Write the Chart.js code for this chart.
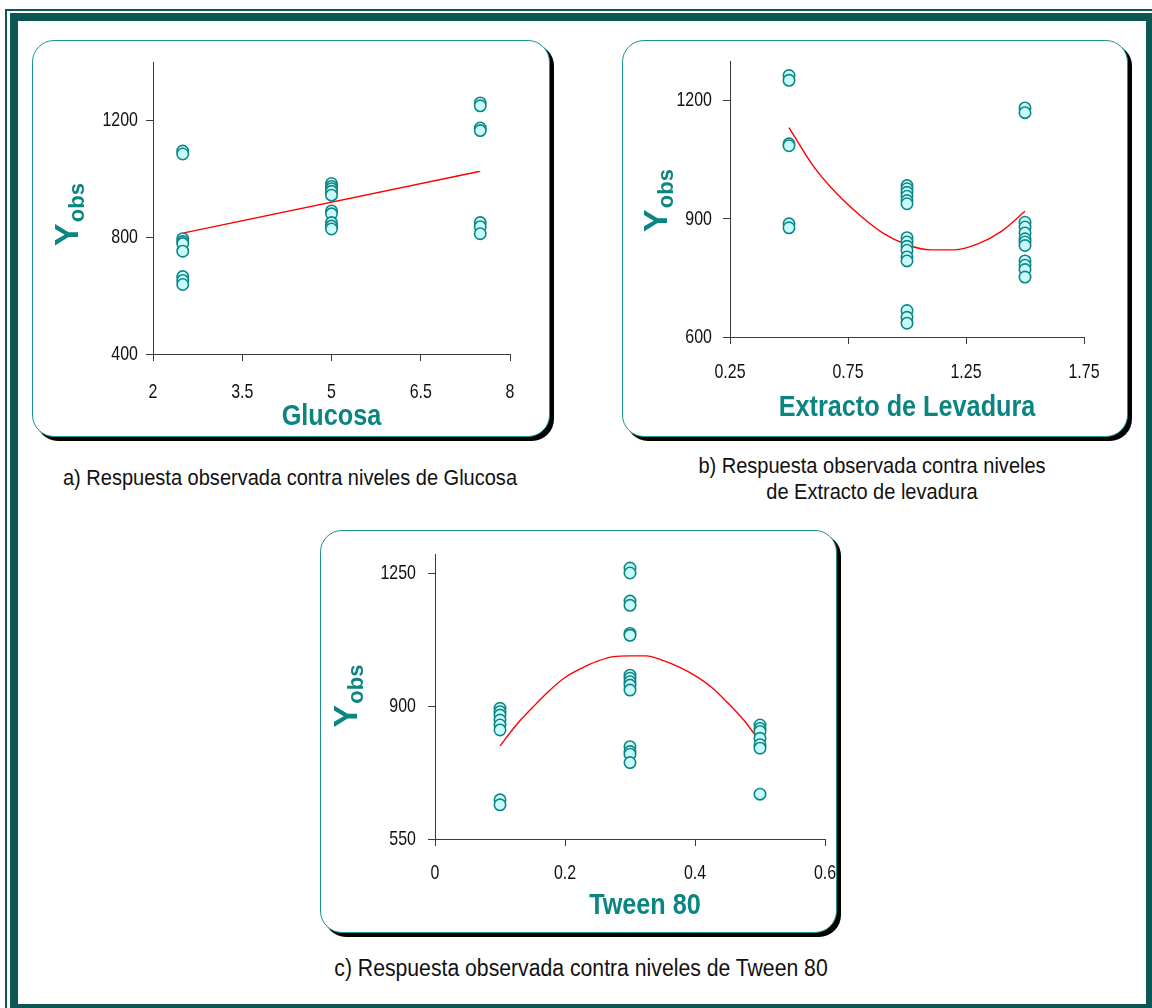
<!DOCTYPE html>
<html lang="es">
<head>
<meta charset="utf-8">
<title>Respuesta observada</title>
<script src="https://cdn.jsdelivr.net/npm/chart.js@4.4.1/dist/chart.umd.min.js"></script>
<style>
  html, body { margin:0; padding:0; background:#fff; }
  body { width:1152px; height:1008px; position:relative; overflow:hidden; font-family:'Liberation Sans', Arial, sans-serif; }
  .frame-thin { position:absolute; left:5px; top:9px; width:1200px; height:1060px; border:2px solid #0b5955; box-sizing:border-box; }
  .frame-thick { position:absolute; left:10px; top:13px; width:1144px; height:999px; border:8px solid #0a5753; box-sizing:border-box; background:#fff; }
  .panel { position:absolute; border:1.5px solid #1b928e; border-radius:22px; box-shadow:4px 4px 0 #000; background:#fff; box-sizing:border-box; }
  canvas { position:absolute; }
  .caption { position:absolute; width:600px; font-size:22px; color:#111; text-align:center; line-height:26px; transform:scaleX(0.91); transform-origin:center top; }
</style>
</head>
<body>
<div class="frame-thin"></div>
<div class="frame-thick"></div>

<div class="panel" style="left:32px; top:40px; width:518px; height:397px;"></div>
<div class="panel" style="left:622px; top:40px; width:506px; height:397px;"></div>
<div class="panel" style="left:320px; top:530px; width:517px; height:403px;"></div>

<canvas id="chartGlu" width="540" height="397" style="left:32px; top:40px;"></canvas>
<canvas id="chartLev" width="530" height="397" style="left:622px; top:40px;"></canvas>
<canvas id="chartTween" width="560" height="403" style="left:320px; top:530px;"></canvas>

<div class="caption" style="left:-10px; top:465px;">a) Respuesta observada contra niveles de Glucosa</div>
<div class="caption" style="left:572px; top:453px;">b) Respuesta observada contra niveles<br>de Extracto de levadura</div>
<div class="caption" style="left:281px; top:955px; font-size:23.3px;">c) Respuesta observada contra niveles de Tween 80</div>

<script>
// observed response vs glucose
const gluObsX = [2.5, 2.5, 2.5, 2.5, 2.5, 2.5, 2.5, 2.5, 2.5,
                 5, 5, 5, 5, 5, 5, 5, 5, 5, 5,
                 7.5, 7.5, 7.5, 7.5, 7.5, 7.5, 7.5];
const gluObsY = [1095, 1085, 795, 785, 778, 752, 665, 652, 638,
                 984, 974, 966, 957, 944, 890, 880, 850, 838, 828,
                 1260, 1250, 1174, 1165, 850, 836, 812];
const gluFitX = [2.5, 7.5];
const gluFitY = [814, 1026];
const gluTicksX = [2, 3.5, 5, 6.5, 8];
const gluTicksY = [400, 800, 1200];

// observed response vs yeast extract
const levObsX = [0.5, 0.5, 0.5, 0.5, 0.5, 0.5,
                 1, 1, 1, 1, 1, 1, 1, 1, 1, 1, 1, 1, 1, 1, 1,
                 1.5, 1.5, 1.5, 1.5, 1.5, 1.5, 1.5, 1.5, 1.5, 1.5, 1.5, 1.5];
const levObsY = [1263, 1251, 1090, 1085, 887, 877,
                 984, 976, 967, 957, 946, 938, 852, 841, 830, 820, 803, 793, 667, 650, 635,
                 1181, 1169, 891, 879, 864, 849, 841, 832, 793, 782, 771, 752];
const levFitX = [0.5, 0.6, 0.7, 0.8, 0.9, 1.0, 1.1, 1.2, 1.3, 1.4, 1.5];
const levFitY = [1131, 1036, 965, 909, 863, 834, 821, 821, 836, 868, 919];
const levTicksX = [0.25, 0.75, 1.25, 1.75];
const levTicksY = [600, 900, 1200];

// observed response vs Tween 80
const tweenObsX = [0.1, 0.1, 0.1, 0.1, 0.1, 0.1, 0.1, 0.1,
                   0.3, 0.3, 0.3, 0.3, 0.3, 0.3, 0.3, 0.3, 0.3, 0.3, 0.3, 0.3, 0.3, 0.3, 0.3,
                   0.5, 0.5, 0.5, 0.5, 0.5, 0.5, 0.5];
const tweenObsY = [894, 885, 876, 863, 850, 837, 653, 640,
                   1263, 1250, 1176, 1165, 1091, 1086, 981, 973, 964, 955, 942, 793, 780, 773, 751,
                   850, 841, 833, 815, 798, 789, 668];
const tweenFitX = [0.1, 0.125, 0.15, 0.175, 0.2, 0.225, 0.25, 0.275, 0.3, 0.325, 0.35, 0.375, 0.4, 0.425, 0.45, 0.475, 0.5];
const tweenFitY = [795, 850, 896, 939, 975, 999, 1018, 1030, 1032, 1032, 1020, 1003, 980, 950, 909, 863, 806];
const tweenTicksX = [0, 0.2, 0.4, 0.6];
const tweenTicksY = [550, 900, 1250];

const teal = '#0b8581';
const axisColor = '#3a3a3a';
const fontFamily = "'Liberation Sans', Arial, sans-serif";

Chart.defaults.font.family = fontFamily;

function pairs(xs, ys){
  return xs.map((x, i) => ({x, y: ys[i]}));
}

// text squeezed horizontally around its anchor
function squeezed(ctx, text, px, py, sx){
  ctx.save();
  ctx.translate(px, py);
  ctx.scale(sx, 1);
  ctx.fillText(text, 0, 0);
  ctx.restore();
}

// tick labels, x title and the rotated Y-obs title, in a narrow face
const axisText = {
  id: 'axisText',
  afterDraw(chart, args, o){
    const {ctx, chartArea} = chart;
    const sx = chart.scales.x, sy = chart.scales.y;
    ctx.save();
    ctx.fillStyle = '#111';
    ctx.font = `21px ${fontFamily}`;
    ctx.textBaseline = 'middle';
    ctx.textAlign = 'center';
    for(const t of sx.ticks){
      squeezed(ctx, String(t.value), sx.getPixelForValue(t.value), chartArea.bottom + o.xLabelDy, 0.76);
    }
    ctx.textAlign = 'right';
    for(const t of sy.ticks){
      squeezed(ctx, String(t.value), chartArea.left - o.yLabelDx, sy.getPixelForValue(t.value), 0.76);
    }

    ctx.fillStyle = teal;
    ctx.font = `bold 29px ${fontFamily}`;
    ctx.textAlign = 'center';
    squeezed(ctx, o.xTitle, (chartArea.left + chartArea.right) / 2 + o.titleDx, chartArea.bottom + o.titleDy, 0.87);

    // Y with subscript obs, reading bottom to top
    const cx = chartArea.left + o.yTitleDx;
    const cy = (chartArea.top + chartArea.bottom) / 2 + o.yTitleDy;
    ctx.translate(cx, cy);
    ctx.rotate(-Math.PI / 2);
    ctx.textAlign = 'left';
    ctx.textBaseline = 'alphabetic';
    ctx.font = `bold 34px ${fontFamily}`;
    const wY = ctx.measureText('Y').width;
    ctx.font = `bold 22px ${fontFamily}`;
    const wObs = ctx.measureText('obs').width;
    const x0 = -(wY + wObs) / 2;
    ctx.font = `bold 34px ${fontFamily}`;
    ctx.fillText('Y', x0, 12);
    ctx.font = `bold 22px ${fontFamily}`;
    ctx.fillText('obs', x0 + wY + 1, 18);
    ctx.restore();
  }
};

function buildChart(canvasId, p){
  const ctx = document.getElementById(canvasId).getContext('2d');
  return new Chart(ctx, {
    type: 'scatter',
    data: {
      datasets: [
        {
          data: pairs(p.obsX, p.obsY),
          pointRadius: 5.7,
          pointBorderWidth: 1.6,
          pointBackgroundColor: '#c8fcfc',
          pointBorderColor: '#0c8684',
          order: 1
        },
        {
          data: pairs(p.fitX, p.fitY),
          showLine: true,
          pointRadius: 0,
          borderColor: '#ff0000',
          borderWidth: 1.4,
          cubicInterpolationMode: 'monotone',
          order: 2
        }
      ]
    },
    options: {
      responsive: false,
      animation: false,
      events: [],
      layout: { padding: { left: 0, top: p.top, right: p.right, bottom: 0 } },
      plugins: {
        legend: { display: false },
        tooltip: { enabled: false },
        axisText: p.text
      },
      scales: {
        x: {
          type: 'linear', min: p.xTicks[0], max: p.xTicks[p.xTicks.length - 1],
          afterBuildTicks: s => { s.ticks = p.xTicks.map(v => ({value: v})); },
          afterFit: s => { s.height = p.xHeight; },
          ticks: { display: false },
          grid: { drawOnChartArea: false, tickLength: 7, color: axisColor },
          border: { color: axisColor, width: 1 }
        },
        y: {
          type: 'linear', min: p.yMin, max: p.yMax,
          afterBuildTicks: s => { s.ticks = p.yTicks.map(v => ({value: v})); },
          afterFit: s => { s.width = p.yWidth; },
          ticks: { display: false },
          grid: { drawOnChartArea: false, tickLength: 7, color: axisColor },
          border: { color: axisColor, width: 1 }
        }
      }
    },
    plugins: [axisText]
  });
}

buildChart('chartGlu', {
  obsX: gluObsX, obsY: gluObsY, fitX: gluFitX, fitY: gluFitY,
  xTicks: gluTicksX, yTicks: gluTicksY, yMin: 400, yMax: 1400,
  top: 22, right: 62, xHeight: 83, yWidth: 121,
  text: { xTitle: 'Glucosa', xLabelDy: 38, yLabelDx: 15, titleDx: 0, titleDy: 63, yTitleDx: -87, yTitleDy: 7 }
});

buildChart('chartLev', {
  obsX: levObsX, obsY: levObsY, fitX: levFitX, fitY: levFitY,
  xTicks: levTicksX, yTicks: levTicksY, yMin: 600, yMax: 1300,
  top: 21, right: 68, xHeight: 100, yWidth: 108,
  text: { xTitle: 'Extracto de Levadura', xLabelDy: 35, yLabelDx: 18, titleDx: 0, titleDy: 71, yTitleDx: -75, yTitleDy: 2 }
});

buildChart('chartTween', {
  obsX: tweenObsX, obsY: tweenObsY, fitX: tweenFitX, fitY: tweenFitY,
  xTicks: tweenTicksX, yTicks: tweenTicksY, yMin: 550, yMax: 1300,
  top: 24, right: 55, xHeight: 94, yWidth: 115,
  text: { xTitle: 'Tween 80', xLabelDy: 34, yLabelDx: 19, titleDx: 15, titleDy: 67, yTitleDx: -90, yTitleDy: 0 }
});
</script>
</body>
</html>
